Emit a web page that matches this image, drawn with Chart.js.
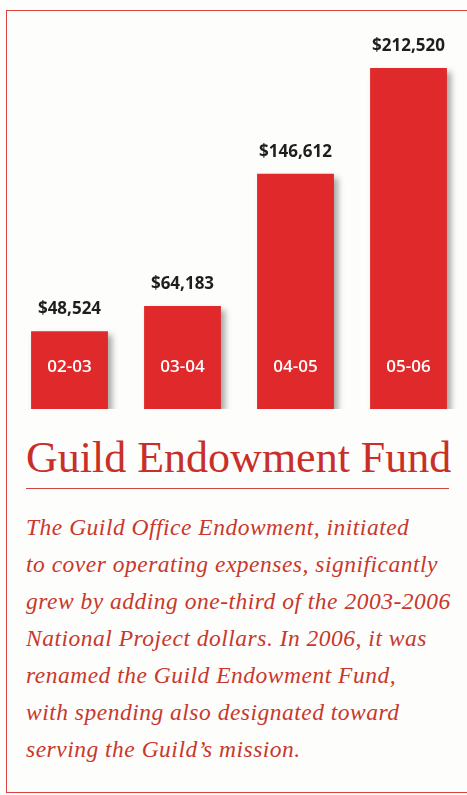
<!DOCTYPE html>
<html>
<head>
<meta charset="utf-8">
<script src="https://cdn.jsdelivr.net/npm/chart.js@4"></script>
<style>
  body { margin: 0; background: #fdfdfb; width: 467px; height: 795px; overflow: hidden; position: relative; }
  .frame { position: absolute; left: 6px; top: 10px; width: 480px; height: 783px; border: 1.5px solid #d9453e; box-sizing: border-box; }
  .chartBox { position: absolute; left: 0; top: 0; width: 467px; height: 420px; }
  h1 { position: absolute; left: 26px; top: 433px; margin: 0; font: 400 44px/50px "Liberation Serif", serif; color: #c92f29; white-space: nowrap; }
  .rule { position: absolute; left: 26px; top: 488px; width: 423px; height: 0; border-top: 1.5px solid #c94a3c; }
  p { position: absolute; left: 26px; top: 509px; margin: 0; font: italic 400 23.5px/37px "Liberation Serif", serif; letter-spacing: 0.5px; color: #c8382d; white-space: nowrap; }
</style>
</head>
<body>
<div class="frame"></div>
<div class="chartBox"><canvas id="endowmentChart"></canvas></div>
<h1>Guild Endowment Fund</h1>
<div class="rule"></div>
<p>The Guild Office Endowment, initiated<br>to cover operating expenses, significantly<br>grew by adding one-third of the 2003-2006<br>National Project dollars. In 2006, it was<br>renamed the Guild Endowment Fund,<br>with spending also designated toward<br>serving the Guild’s mission.</p>
<script>
const years = ['02-03', '03-04', '04-05', '05-06'];
const fundValues = [48524, 64183, 146612, 212520];

const barShadow = {
    id: 'barShadow',
    beforeDatasetsDraw(chart) {
        const c = chart.ctx;
        c.save();
        c.shadowColor = 'rgba(60,60,60,0.45)';
        c.shadowBlur = 6;
        c.shadowOffsetX = 4;
        c.shadowOffsetY = 4;
    },
    afterDatasetsDraw(chart) {
        chart.ctx.restore();
    }
};

const barText = {
    id: 'barText',
    afterDatasetsDraw(chart) {
        const c = chart.ctx;
        const meta = chart.getDatasetMeta(0);
        c.save();
        c.textAlign = 'center';
        c.textBaseline = 'middle';
        meta.data.forEach((bar, i) => {
            c.fillStyle = '#1e1e1e';
            c.font = 'bold 17px "Open Sans", sans-serif';
            c.fillText('$' + fundValues[i].toLocaleString('en-US'), bar.x, bar.y - 22);
            c.fillStyle = '#ffffff';
            c.font = '600 17px "Open Sans", sans-serif';
            c.fillText(years[i], bar.x, bar.base - 42);
        });
        c.restore();
    }
};

new Chart(document.getElementById('endowmentChart'), {
    type: 'bar',
    data: {
        labels: years,
        datasets: [{
            data: fundValues,
            backgroundColor: '#e0292b',
            barPercentage: 0.68,
            categoryPercentage: 1
        }]
    },
    options: {
        responsive: true,
        maintainAspectRatio: false,
        animation: false,
        layout: { padding: { left: 13, right: 2, top: 8, bottom: 11 } },
        plugins: {
            legend: false,
            tooltip: { enabled: false }
        },
        scales: {
            x: { display: false },
            y: { display: false, min: 0, max: 250000 }
        }
    },
    plugins: [barShadow, barText]
});
</script>
</body>
</html>
